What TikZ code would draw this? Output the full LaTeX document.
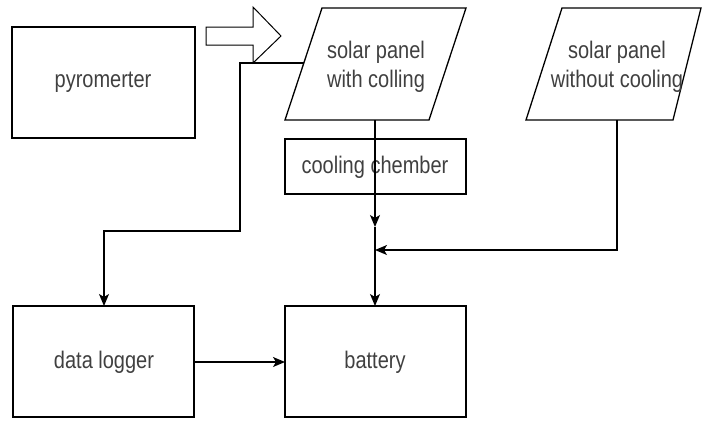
\documentclass[tikz,border=0pt]{standalone}
\usepackage{fontspec}
\setmainfont{Liberation Sans}
\usetikzlibrary{arrows.meta}
\begin{document}
\begin{tikzpicture}[x=1pt,y=-1pt,line width=1.3pt,
  box/.style={draw,black,line width=1.3pt,rectangle},
  lbl/.style={text=black!75,font=\fontsize{20}{24}\selectfont,align=center,inner sep=0pt,yscale=1.2,transform shape},
  arr/.style={-{Stealth[length=12pt,width=10pt,inset=3pt]}}]
\useasboundingbox (0,0) rectangle (702,421);
% boxes
\draw[box] (12,27) rectangle (195,138);
\node[lbl] (pyro) at (103,82) {pyromerter};
\draw[box] (285,139) rectangle (466,194);
\node[lbl] (cool) at (375,167) {cooling chember};
\draw[box] (13,306) rectangle (194,417);
\node[lbl] (logger) at (104,362) {data logger};
\draw[box] (285,306) rectangle (466,417);
\node[lbl] (batt) at (375,362) {battery};
% parallelograms
\draw (322,8) -- (466,8) -- (429,120) -- (285,120) -- cycle;
\node[lbl] (p1) at (376,67) {solar panel\\with colling};
\draw (562,8) -- (701,8) -- (673,120) -- (526,120) -- cycle;
\node[lbl] (p2) at (617,67) {solar panel\\without cooling};
% hollow arrow
\draw[line width=1pt,fill=white] (206,27) -- (253,27) -- (253,7) -- (281,36) -- (253,63) -- (253,45) -- (206,45) -- cycle;
% connection coordinates
\coordinate (p1w) at (303.5,63);
\coordinate (p1s) at (375,120);
\coordinate (p2s) at (617,120);
\coordinate (j1) at (375,227);
\coordinate (j2) at (375,250);
\coordinate (lgn) at (104,306);
\coordinate (btn) at (375,306);
\coordinate (lge) at (194,362);
\coordinate (btw) at (285,362);
% connectors
\draw[arr] (p1w) -- (240,63) -- (240,231) -- (104,231) -- (lgn);
\draw[arr] (p1s) -- (j1);
\draw[arr] (j1) -- (btn);
\draw[arr] (p2s) |- (j2);
\draw[arr] (lge) -- (btw);
\end{tikzpicture}
\end{document}
